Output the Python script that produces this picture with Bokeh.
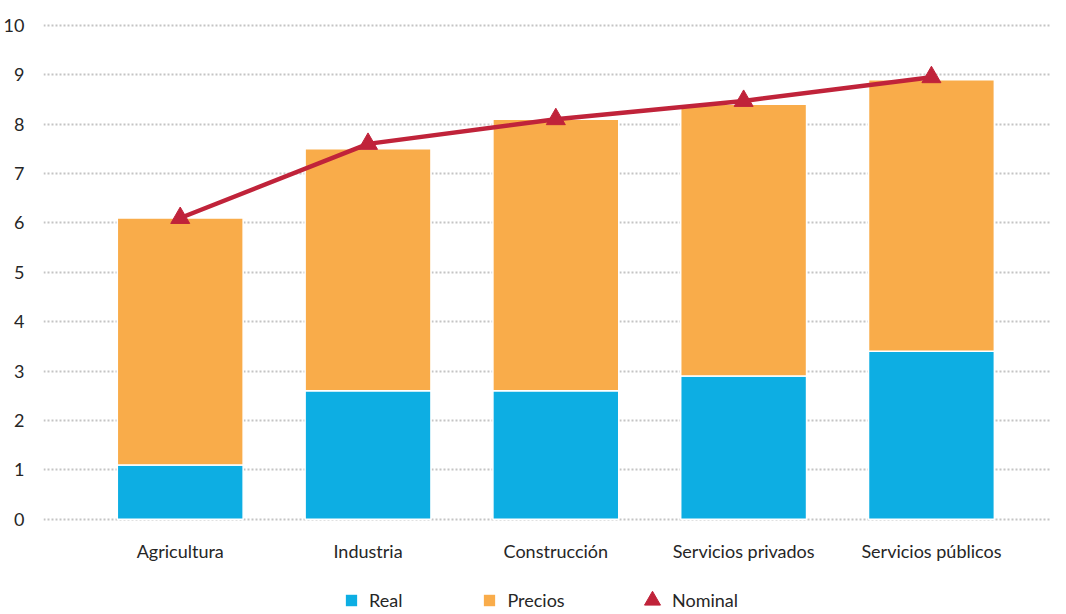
from bokeh.plotting import figure
from bokeh.models import Legend, LegendItem, FixedTicker, Range1d
from bokeh.embed import file_html
from bokeh.resources import INLINE

categories = ["Agricultura", "Industria", "Construcción", "Servicios privados", "Servicios públicos"]
real = [1.1, 2.6, 2.6, 2.9, 3.4]
precios = [5.0, 4.9, 5.5, 5.5, 5.5]
nominal = [6.1, 7.6, 8.1, 8.47, 8.95]
y_ticks = [0, 1, 2, 3, 4, 5, 6, 7, 8, 9, 10]

FONT = "Lato"
TXT = "#262626"
BLUE = "#0DAEE3"
ORANGE = "#F9AC4A"
RED = "#C0233A"

xs = list(range(len(categories)))

p = figure(width=1050, height=614, output_backend="svg", toolbar_location=None,
           x_range=Range1d(-0.728, 4.634), y_range=Range1d(-1.927, 10.3),
           min_border_left=34, min_border_right=0, min_border_top=10, min_border_bottom=0)
p.outline_line_color = None
p.background_fill_color = "white"

src = dict(x=xs, real=real, precios=precios)
rs = p.vbar_stack(["real", "precios"], x="x", width=0.67, source=src,
                  color=[BLUE, ORANGE], line_color="white", line_width=1.5)

line = p.line(xs, nominal, line_color=RED, line_width=4.5)
tri = p.scatter(xs, nominal, marker="triangle", size=19, fill_color=RED, line_color=RED)

# axes
p.xaxis.ticker = FixedTicker(ticks=xs)
p.xaxis.major_label_overrides = {i: c for i, c in enumerate(categories)}
p.xaxis.fixed_location = 0
p.yaxis.ticker = FixedTicker(ticks=y_ticks)
for ax in (p.xaxis[0], p.yaxis[0]):
    ax.axis_line_color = None
    ax.major_tick_line_color = None
    ax.minor_tick_line_color = None
    ax.major_label_text_font = FONT
    ax.major_label_text_font_size = "18px"
    ax.major_label_text_color = TXT
p.xaxis.major_label_standoff = 15
p.yaxis.major_label_standoff = 13

p.xgrid.grid_line_color = None
p.ygrid.grid_line_color = "#c4c4c4"
p.ygrid.grid_line_width = 2
p.ygrid.grid_line_dash = "2 2"

common = dict(orientation="horizontal", padding=0, margin=0, border_line_color=None,
              background_fill_alpha=0, label_text_font=FONT, label_text_font_size="18px",
              label_text_color=TXT)

legend1 = Legend(items=[LegendItem(label="Real", renderers=[rs[0]]),
                        LegendItem(label="Precios", renderers=[rs[1]])],
                 location=(300, 3), glyph_width=16, glyph_height=16,
                 label_standoff=10, spacing=79, **common)
legend2 = Legend(items=[LegendItem(label="Nominal", renderers=[tri])],
                 location=(589, -6), glyph_width=40, glyph_height=40,
                 label_standoff=-7, spacing=0, **common)
p.add_layout(legend1, "center")
p.add_layout(legend2, "center")

open("out.html", "w").write(file_html(p, INLINE))
